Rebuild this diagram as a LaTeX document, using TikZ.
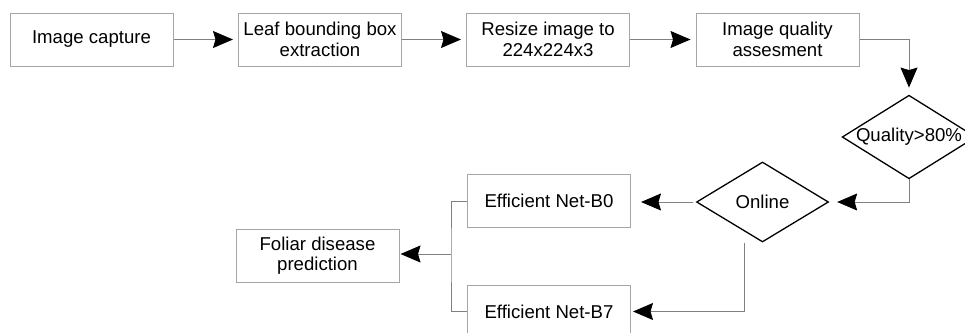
\documentclass[tikz,border=0pt]{standalone}
\usepackage{fontspec}
\setmainfont{Liberation Sans}
\usetikzlibrary{shapes.geometric,arrows.meta}

\begin{document}
\begin{tikzpicture}[x=1pt,y=-1pt,
	font=\fontsize{18.6}{20.5}\selectfont,
	box/.style={draw=gray!70, line width=1pt, minimum width=163pt, minimum height=53pt, inner sep=0pt, align=center},
	dia/.style={draw=black, line width=1.3pt, diamond, aspect=1.6, inner sep=0pt, minimum width=132pt, minimum height=80pt},
	flow/.style={draw=gray, line width=1pt, -{Stealth[length=20pt,width=17pt,inset=2.5pt,color=black]}, shorten >=5pt}]
	\useasboundingbox (0,0) rectangle (965,332);

	\node[box] (capture) at (91.5,39.5) {Image capture};
	\node[box] (leaf) at (320,39.5) {Leaf bounding box\\extraction};
	\node[box] (resize) at (548,39.5) {Resize image to\\224x224x3};
	\node[box] (quality) at (777.5,39.5) {Image quality\\assesment};
	\node[dia] (qcheck) at (909,137) {Quality>80\%};
	\node[dia] (online) at (762.5,202) {Online};
	\node[box] (netb0) at (549,201) {Efficient Net-B0};
	\node[box] (netb7) at (549,311.5) {Efficient Net-B7};
	\node[box] (foliar) at (317.5,255.5) {Foliar disease\\prediction};
	\coordinate (split) at (451,254);

	\draw[flow] (capture) -- (leaf);
	\draw[flow] (leaf) -- (resize);
	\draw[flow] (resize) -- (quality);
	\draw[flow, shorten >=7pt] (quality.east) -| (qcheck.north);
	\draw[flow, shorten >=8pt] (qcheck.south) |- (online.east);
	\draw[flow, shorten <=3pt, shorten >=10pt] (online.west) -- (online.west -| netb0.east);
	\draw[flow, shorten >=2pt] ([xshift=-18pt]online.south) |- (netb7.east);
	\draw[draw=gray, line width=1pt] (netb0.west) -| (split) |- (netb7.west);
	\draw[flow, shorten >=1pt] (split) -- (split -| foliar.east);
\end{tikzpicture}
\end{document}
